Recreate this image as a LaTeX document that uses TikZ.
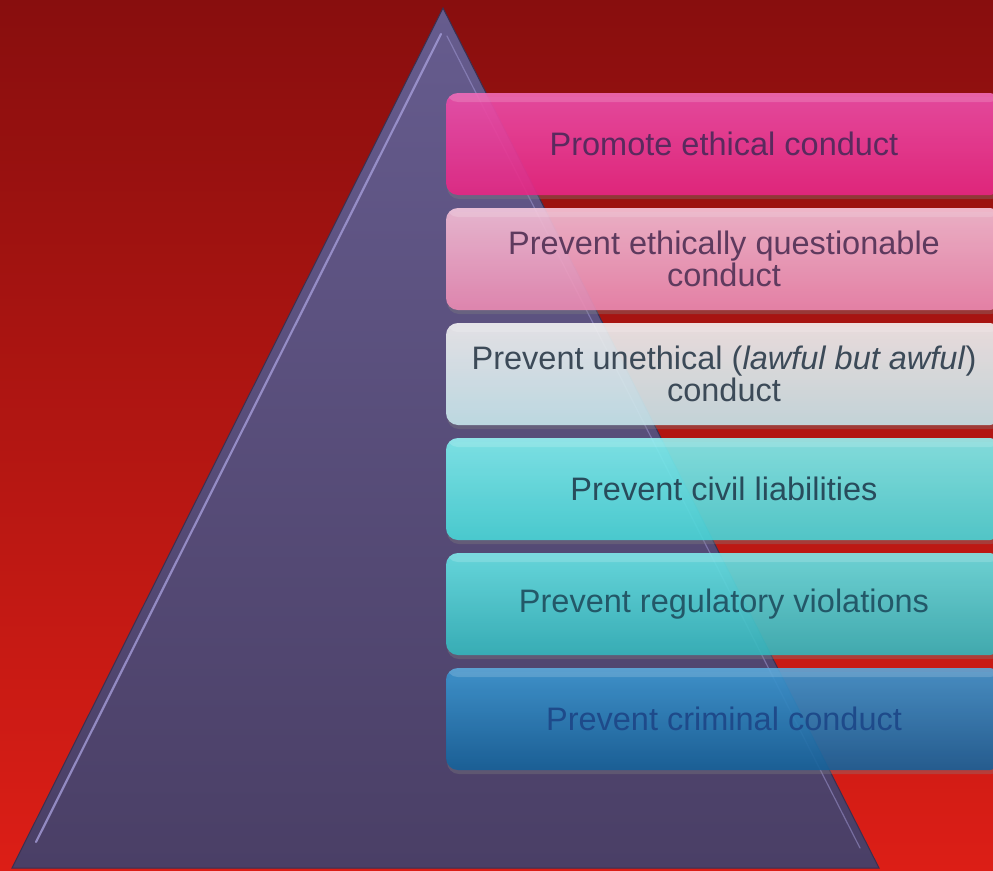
\documentclass[tikz,border=0pt]{standalone}
\usepackage{fontspec}
\setmainfont{Liberation Sans}
\usetikzlibrary{shadows}
\definecolor{bgtop}{HTML}{880E0E}
\definecolor{bgbot}{HTML}{DC1E16}
\definecolor{tritop}{HTML}{665C8E}
\definecolor{tribot}{HTML}{4A3F66}
\definecolor{tridark}{HTML}{3A3050}
\definecolor{trihi}{HTML}{A49CD8}
\definecolor{magA}{HTML}{F04CAA}\definecolor{magB}{HTML}{EA2484}
\definecolor{pnkA}{HTML}{F6C0D8}\definecolor{pnkB}{HTML}{EE8AB4}
\definecolor{whtA}{HTML}{F4F2F2}\definecolor{whtB}{HTML}{C8E8EE}
\definecolor{cynA}{HTML}{80F2F2}\definecolor{cynB}{HTML}{46D8DA}
\definecolor{tealA}{HTML}{66E6E8}\definecolor{tealB}{HTML}{32B8BE}
\definecolor{bluA}{HTML}{3A98D4}\definecolor{bluB}{HTML}{12609A}
\definecolor{txmag}{HTML}{5A2A5E}
\definecolor{txpnk}{HTML}{5E3A5E}
\definecolor{txwht}{HTML}{3C4A58}
\definecolor{txcyn}{HTML}{284C5C}
\definecolor{txteal}{HTML}{235868}
\definecolor{txblu}{HTML}{1E4A8A}
\begin{document}
\begin{tikzpicture}[x=1pt,y=-1pt,
  box/.style={rounded corners=12pt, minimum width=556pt, minimum height=102pt,
    inner sep=0pt, align=center, font=\fontsize{32.5}{32}\selectfont,
    fill opacity=0.88, text opacity=1,
    drop shadow={opacity=0.35, shadow xshift=1pt, shadow yshift=-4pt},
    path picture={\fill[white, opacity=0.16]
      (path picture bounding box.north west) rectangle
      ([yshift=-9pt]path picture bounding box.north east);}},
  tier/.style n args={3}{box, top color=#1, bottom color=#2, text=#3},
]
\useasboundingbox (0,0) rectangle (993,870);
\clip (0,0) rectangle (993,870);
% backdrop
\shade[top color=bgtop, bottom color=bgbot] (0,0) rectangle (993,870);
% pyramid
\coordinate (apex) at (443,8);
\coordinate (bl) at (12,868);
\coordinate (br) at (879,868);
\shade[top color=tritop, bottom color=tribot, draw=tridark, line width=1pt]
  (apex) -- (br) -- (bl) -- cycle;
\draw[trihi, line width=2.2pt, line cap=round, opacity=0.8] (441,34) -- (36,842);
\draw[trihi, line width=1.2pt, line cap=round, opacity=0.5] (447,36) -- (860,848);
% tiers
\node[tier={magA}{magB}{txmag}] (t1) at (724,144)
  {Promote ethical conduct};
\node[tier={pnkA}{pnkB}{txpnk}] (t2) at (724,259)
  {Prevent ethically questionable\\conduct};
\node[tier={whtA}{whtB}{txwht}] (t3) at (724,374)
  {Prevent unethical (\textit{lawful but awful})\\conduct};
\node[tier={cynA}{cynB}{txcyn}] (t4) at (724,489)
  {Prevent civil liabilities};
\node[tier={tealA}{tealB}{txteal}] (t5) at (724,604)
  {Prevent regulatory violations};
\node[tier={bluA}{bluB}{txblu}] (t6) at (724,719)
  {Prevent criminal conduct};
\end{tikzpicture}
\end{document}
